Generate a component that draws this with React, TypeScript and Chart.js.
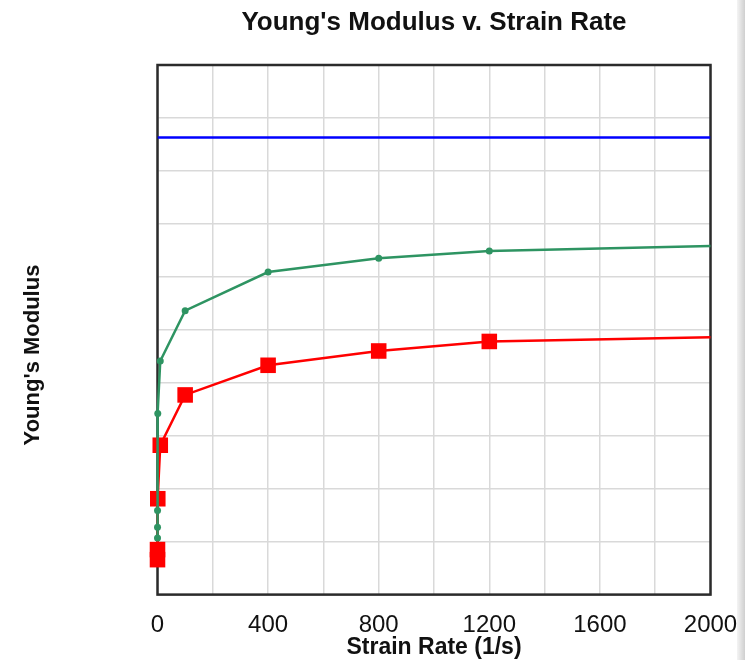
import React, { useEffect, useRef } from "react";
import { Chart, registerables } from "chart.js";

Chart.register(...registerables);

const chartTitle = "Young's Modulus v. Strain Rate";
const xAxisTitle = "Strain Rate (1/s)";
const yAxisTitle = "Young's Modulus";

const xTickLabels = [0, 400, 800, 1200, 1600, 2000];

const redRates = [0.001, 0.01, 1, 10, 100, 400, 800, 1200, 2000];
const redValues = [0.66, 0.85, 1.81, 2.82, 3.77, 4.33, 4.6, 4.78, 4.86];

const greenRates = [0.001, 0.01, 0.1, 1, 10, 100, 400, 800, 1200, 2000];
const greenValues = [1.07, 1.27, 1.59, 3.42, 4.41, 5.36, 6.09, 6.35, 6.49, 6.58];

const blueRates = [0, 2000];
const blueValues = [8.63, 8.63];

const FONT = "'Liberation Sans', Arial, sans-serif";

const decorPlugin = {
  id: "decor",
  beforeDatasetsDraw(chart: any) {
    const { ctx, chartArea } = chart;
    const { left, right, top, bottom } = chartArea;
    ctx.save();
    ctx.strokeStyle = "#2b2b2b";
    ctx.lineWidth = 2.5;
    ctx.strokeRect(left, top, right - left, bottom - top);
    ctx.restore();
  },
  afterDraw(chart: any) {
    const { ctx, chartArea } = chart;
    const { left, right } = chartArea;
    ctx.save();
    ctx.fillStyle = "#111";
    ctx.textAlign = "center";
    ctx.textBaseline = "middle";
    // title
    ctx.font = `bold 26px ${FONT}`;
    ctx.fillText(chartTitle, (left + right) / 2, 23);
    // x title
    ctx.font = `bold 23px ${FONT}`;
    ctx.fillText(xAxisTitle, (left + right) / 2, 648);
    // y title
    ctx.font = `bold 22px ${FONT}`;
    ctx.translate(33, 355);
    ctx.rotate(-Math.PI / 2);
    ctx.fillText(yAxisTitle, 0, 0);
    ctx.restore();
  },
};

export default function App() {
  const ref = useRef<HTMLCanvasElement | null>(null);

  useEffect(() => {
    if (!ref.current) return;
    const toPts = (xs: number[], ys: number[]) => xs.map((x, i) => ({ x, y: ys[i] }));
    const chart = new Chart(ref.current, {
      type: "scatter",
      data: {
        datasets: [
          {
            label: "blue",
            data: toPts(blueRates, blueValues),
            showLine: true,
            borderColor: "#0000ff",
            backgroundColor: "#0000ff",
            borderWidth: 2.5,
            pointRadius: 0,
          },
          {
            label: "green",
            data: toPts(greenRates, greenValues),
            showLine: true,
            clip: false,
            borderColor: "#2e9462",
            backgroundColor: "#2e9462",
            borderWidth: 2.5,
            pointRadius: greenRates.map((_, i) => (i === greenRates.length - 1 ? 0 : 3.5)),
            pointBorderWidth: 0,
          },
          {
            label: "red",
            data: toPts(redRates, redValues),
            showLine: true,
            clip: false,
            borderColor: "#ff0000",
            backgroundColor: "#ff0000",
            borderWidth: 2.5,
            pointStyle: "rect",
            pointRadius: redRates.map((_, i) => (i === redRates.length - 1 ? 0 : 11)),
            pointBorderWidth: 0,
          },
        ],
      },
      options: {
        animation: false,
        responsive: false,
        maintainAspectRatio: false,
        layout: { padding: { top: 65, right: 34.5, left: 0, bottom: 4.6 } },
        plugins: {
          legend: { display: false },
          tooltip: { enabled: false },
          title: { display: false },
        },
        scales: {
          x: {
            type: "linear",
            min: 0,
            max: 2000,
            border: { display: false },
            grid: { color: "#d9d9d9", lineWidth: 1.5, drawTicks: false },
            ticks: {
              stepSize: 200,
              padding: 16,
              color: "#111",
              font: { family: FONT, size: 24 },
              callback: (v: any) => (xTickLabels.includes(Number(v)) ? String(v) : ""),
              maxRotation: 0,
              autoSkip: false,
            },
            title: { display: false },
            afterFit: (scale: any) => {
              scale.paddingLeft = 0;
              scale.paddingRight = 0;
            },
          },
          y: {
            type: "linear",
            min: 0,
            max: 10,
            border: { display: false },
            grid: { color: "#d9d9d9", lineWidth: 1.5, drawTicks: false },
            ticks: { stepSize: 1, display: false },
            afterFit: (scale: any) => {
              scale.width = 157.5;
            },
          },
        },
      },
      plugins: [decorPlugin],
    });
    return () => chart.destroy();
  }, []);

  return (
    <div style={{ position: "fixed", left: 0, top: 0, width: 745, height: 660, background: "#fff" }}>
      <canvas ref={ref} width={745} height={660} style={{ display: "block" }} />
      <div
        style={{
          position: "absolute",
          right: 0,
          top: 0,
          width: 8,
          height: 660,
          background: "linear-gradient(to right, #f4f4f4, #cfcfcf)",
        }}
      />
    </div>
  );
}
